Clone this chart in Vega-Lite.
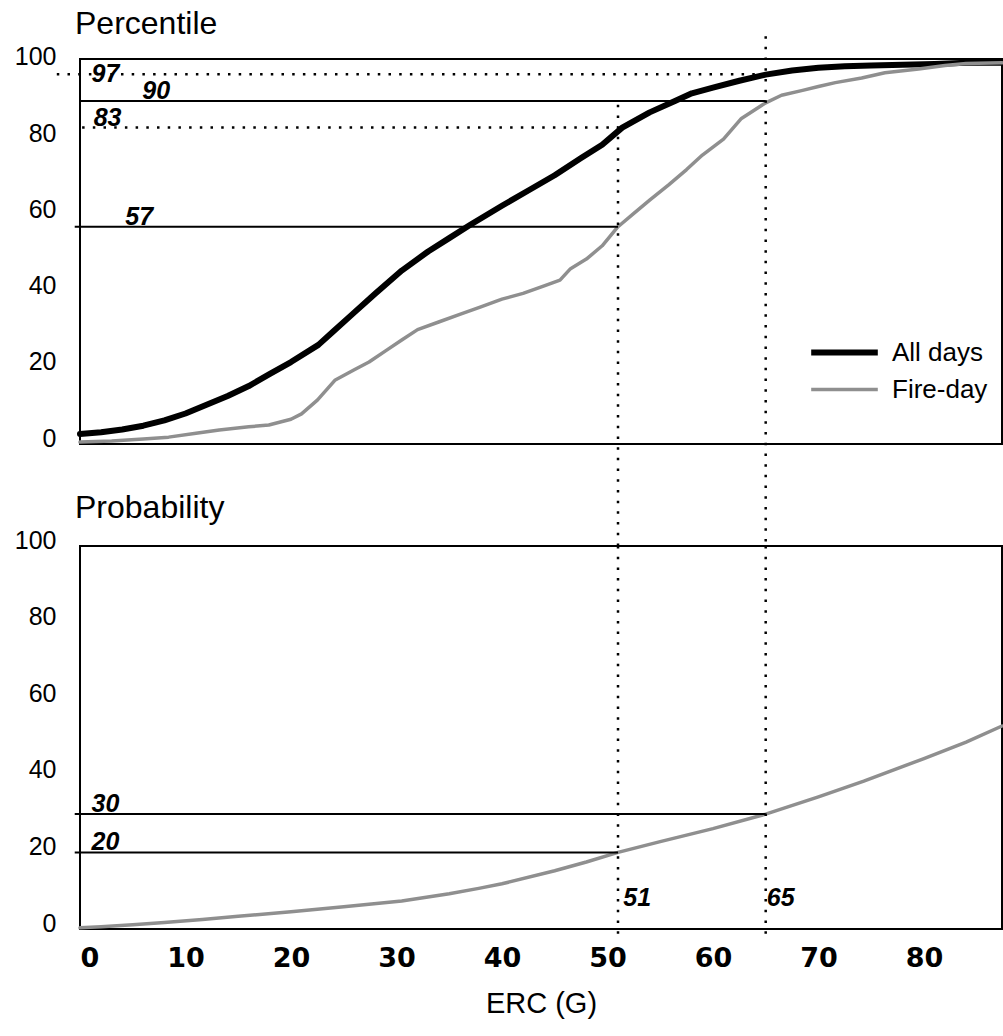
{
  "$schema": "https://vega.github.io/schema/vega-lite/v6.json",
  "background": "white",
  "padding": {"left": 13, "top": 6, "right": 2, "bottom": 2},
  "bounds": "flush",
  "spacing": 102,
  "config": {
    "view": {"stroke": "black", "strokeWidth": 2},
    "font": "Liberation Sans",
    "axis": {"grid": false, "domain": false, "ticks": false, "labelColor": "black", "titleColor": "black"},
    "axisY": {"labelFont": "Liberation Sans", "labelFontSize": 25, "labelPadding": 24, "labelOffset": -6},
    "axisX": {"labelFont": "DejaVu Sans", "labelFontWeight": "bold", "labelFontSize": 27, "labelPadding": 16, "titleFont": "Liberation Sans", "titleFontSize": 29, "titleFontWeight": "normal", "titlePadding": 18}
  },
  "datasets": {
    "curves": [
      {"erc": 0, "pct": 2.6, "series": "All days"},
      {"erc": 2, "pct": 3.1, "series": "All days"},
      {"erc": 4, "pct": 3.8, "series": "All days"},
      {"erc": 6, "pct": 4.8, "series": "All days"},
      {"erc": 8, "pct": 6.2, "series": "All days"},
      {"erc": 10, "pct": 8, "series": "All days"},
      {"erc": 12, "pct": 10.3, "series": "All days"},
      {"erc": 14, "pct": 12.6, "series": "All days"},
      {"erc": 16, "pct": 15.2, "series": "All days"},
      {"erc": 18, "pct": 18.4, "series": "All days"},
      {"erc": 20, "pct": 21.5, "series": "All days"},
      {"erc": 22.6, "pct": 26, "series": "All days"},
      {"erc": 24, "pct": 29.5, "series": "All days"},
      {"erc": 25.8, "pct": 34, "series": "All days"},
      {"erc": 28, "pct": 39.5, "series": "All days"},
      {"erc": 30.5, "pct": 45.5, "series": "All days"},
      {"erc": 33, "pct": 50.5, "series": "All days"},
      {"erc": 35, "pct": 54, "series": "All days"},
      {"erc": 37, "pct": 57.5, "series": "All days"},
      {"erc": 40, "pct": 62.5, "series": "All days"},
      {"erc": 42.5, "pct": 66.5, "series": "All days"},
      {"erc": 45, "pct": 70.5, "series": "All days"},
      {"erc": 47.5, "pct": 75, "series": "All days"},
      {"erc": 49.5, "pct": 78.5, "series": "All days"},
      {"erc": 51.4, "pct": 83, "series": "All days"},
      {"erc": 54, "pct": 87, "series": "All days"},
      {"erc": 56.4, "pct": 90, "series": "All days"},
      {"erc": 58, "pct": 92, "series": "All days"},
      {"erc": 60, "pct": 93.5, "series": "All days"},
      {"erc": 62.5, "pct": 95.3, "series": "All days"},
      {"erc": 65, "pct": 96.9, "series": "All days"},
      {"erc": 67.5, "pct": 98, "series": "All days"},
      {"erc": 70, "pct": 98.7, "series": "All days"},
      {"erc": 72.5, "pct": 99.1, "series": "All days"},
      {"erc": 75, "pct": 99.3, "series": "All days"},
      {"erc": 78, "pct": 99.5, "series": "All days"},
      {"erc": 81, "pct": 99.7, "series": "All days"},
      {"erc": 84, "pct": 100, "series": "All days"},
      {"erc": 87.4, "pct": 100, "series": "All days"},
      {"erc": 0, "pct": 0.5, "series": "Fire-day"},
      {"erc": 3, "pct": 0.8, "series": "Fire-day"},
      {"erc": 6, "pct": 1.3, "series": "Fire-day"},
      {"erc": 8.4, "pct": 1.8, "series": "Fire-day"},
      {"erc": 11, "pct": 2.8, "series": "Fire-day"},
      {"erc": 13.2, "pct": 3.7, "series": "Fire-day"},
      {"erc": 16, "pct": 4.5, "series": "Fire-day"},
      {"erc": 17.9, "pct": 5, "series": "Fire-day"},
      {"erc": 20, "pct": 6.5, "series": "Fire-day"},
      {"erc": 21, "pct": 7.9, "series": "Fire-day"},
      {"erc": 22.5, "pct": 11.5, "series": "Fire-day"},
      {"erc": 24.2, "pct": 16.8, "series": "Fire-day"},
      {"erc": 26, "pct": 19.5, "series": "Fire-day"},
      {"erc": 27.4, "pct": 21.5, "series": "Fire-day"},
      {"erc": 29, "pct": 24.5, "series": "Fire-day"},
      {"erc": 30.5, "pct": 27.3, "series": "Fire-day"},
      {"erc": 32, "pct": 30, "series": "Fire-day"},
      {"erc": 34, "pct": 32, "series": "Fire-day"},
      {"erc": 36, "pct": 34, "series": "Fire-day"},
      {"erc": 38, "pct": 36, "series": "Fire-day"},
      {"erc": 40, "pct": 38, "series": "Fire-day"},
      {"erc": 42, "pct": 39.5, "series": "Fire-day"},
      {"erc": 44, "pct": 41.5, "series": "Fire-day"},
      {"erc": 45.5, "pct": 43, "series": "Fire-day"},
      {"erc": 46.5, "pct": 46, "series": "Fire-day"},
      {"erc": 48, "pct": 48.5, "series": "Fire-day"},
      {"erc": 49.5, "pct": 52, "series": "Fire-day"},
      {"erc": 51, "pct": 57, "series": "Fire-day"},
      {"erc": 52.5, "pct": 60.5, "series": "Fire-day"},
      {"erc": 54, "pct": 64, "series": "Fire-day"},
      {"erc": 55.8, "pct": 68, "series": "Fire-day"},
      {"erc": 57.5, "pct": 72, "series": "Fire-day"},
      {"erc": 59, "pct": 75.8, "series": "Fire-day"},
      {"erc": 61, "pct": 80, "series": "Fire-day"},
      {"erc": 62.7, "pct": 85.4, "series": "Fire-day"},
      {"erc": 65, "pct": 89.5, "series": "Fire-day"},
      {"erc": 66.5, "pct": 91.5, "series": "Fire-day"},
      {"erc": 68.4, "pct": 92.7, "series": "Fire-day"},
      {"erc": 70, "pct": 93.8, "series": "Fire-day"},
      {"erc": 71.6, "pct": 94.8, "series": "Fire-day"},
      {"erc": 74.1, "pct": 96, "series": "Fire-day"},
      {"erc": 76.3, "pct": 97.4, "series": "Fire-day"},
      {"erc": 79.5, "pct": 98.4, "series": "Fire-day"},
      {"erc": 82, "pct": 99.3, "series": "Fire-day"},
      {"erc": 84, "pct": 99.8, "series": "Fire-day"},
      {"erc": 87.4, "pct": 100, "series": "Fire-day"}
    ],
    "prob": [
      {"erc": 0, "pct": 0.3},
      {"erc": 2, "pct": 0.6},
      {"erc": 5, "pct": 1.1},
      {"erc": 8, "pct": 1.7},
      {"erc": 11.6, "pct": 2.5},
      {"erc": 15, "pct": 3.3},
      {"erc": 20, "pct": 4.5},
      {"erc": 25, "pct": 5.8},
      {"erc": 30.5, "pct": 7.3},
      {"erc": 35, "pct": 9.2},
      {"erc": 37.8, "pct": 10.6},
      {"erc": 40, "pct": 11.8},
      {"erc": 45, "pct": 15.2},
      {"erc": 48, "pct": 17.5},
      {"erc": 51, "pct": 20},
      {"erc": 55, "pct": 22.8},
      {"erc": 60, "pct": 26.2},
      {"erc": 65, "pct": 30},
      {"erc": 70, "pct": 34.5},
      {"erc": 74.3, "pct": 38.6},
      {"erc": 80, "pct": 44.5},
      {"erc": 84, "pct": 48.8},
      {"erc": 87.4, "pct": 53}
    ]
  },
  "vconcat": [
    {
      "width": 922,
      "height": 385,
      "title": {"text": "Percentile", "anchor": "start", "frame": "group", "fontSize": 32, "fontWeight": "normal", "font": "Liberation Sans", "color": "black", "baseline": "alphabetic", "offset": -31, "dx": -5},
      "encoding": {
        "x": {"field": "erc", "type": "quantitative", "scale": {"domain": [0, 87.4], "nice": false, "zero": false}, "axis": null},
        "y": {"field": "pct", "type": "quantitative", "scale": {"domain": [0, 101], "nice": false}, "axis": {"title": null, "values": [0, 20, 40, 60, 80, 100]}}
      },
      "layer": [
        {
          "data": {"name": "curves"},
          "mark": {"type": "line", "strokeCap": "round", "strokeJoin": "round"},
          "encoding": {
            "color": {"field": "series", "type": "nominal", "scale": {"domain": ["All days", "Fire-day"], "range": ["#000000", "#8f8f8f"]},
              "legend": {"title": null, "orient": "none", "legendX": 748, "legendY": 277, "symbolType": "M-2.5,0H2.5", "symbolSize": 710, "labelFontSize": 26, "labelFont": "Liberation Sans", "labelColor": "black", "labelOffset": 31, "rowPadding": 8}},
            "strokeWidth": {"field": "series", "type": "nominal", "scale": {"domain": ["All days", "Fire-day"], "range": [6, 3.5]}, "legend": {"title": null, "orient": "none", "legendX": 748, "legendY": 277, "symbolType": "M-2.5,0H2.5", "symbolSize": 710, "labelFontSize": 26, "labelFont": "Liberation Sans", "labelColor": "black", "labelOffset": 31, "rowPadding": 8}}
          }
        },
        {
          "data": {"values": [{"erc": -2.2, "erc2": 65, "pct": 97}, {"erc": 0.2, "erc2": 51, "pct": 83}]},
          "mark": {"type": "rule", "color": "black", "strokeWidth": 2.5, "strokeDash": [2.5, 8.2]},
          "encoding": {"x2": {"field": "erc2"}}
        },
        {
          "data": {"values": [{"erc": 0, "erc2": 65, "pct": 90}, {"erc": -0.5, "erc2": 51, "pct": 57}]},
          "mark": {"type": "rule", "color": "black", "strokeWidth": 2},
          "encoding": {"x2": {"field": "erc2"}}
        },
        {
          "data": {"values": [{"erc": 51, "pct": 89, "pct2": -26.8}, {"erc": 65, "pct": 107, "pct2": -26.8}]},
          "mark": {"type": "rule", "color": "black", "strokeWidth": 2.5, "strokeDash": [2.5, 8.2]},
          "encoding": {"y2": {"field": "pct2"}}
        },
        {
          "data": {"values": [{"erc": 1.1, "pct": 97, "label": "97"}]},
          "mark": {"type": "text", "align": "left", "baseline": "middle", "font": "Liberation Sans", "fontSize": 25, "fontWeight": "bold", "fontStyle": "italic", "color": "black"},
          "encoding": {"text": {"field": "label"}}
        },
        {
          "data": {"values": [{"erc": 5.9, "pct": 90, "label": "90"}, {"erc": 1.3, "pct": 83, "label": "83"}, {"erc": 4.3, "pct": 57, "label": "57"}]},
          "mark": {"type": "text", "align": "left", "baseline": "alphabetic", "dy": -2, "font": "Liberation Sans", "fontSize": 25, "fontWeight": "bold", "fontStyle": "italic", "color": "black"},
          "encoding": {"text": {"field": "label"}}
        }
      ]
    },
    {
      "width": 922,
      "height": 383,
      "title": {"text": "Probability", "anchor": "start", "frame": "group", "fontSize": 32, "fontWeight": "normal", "font": "Liberation Sans", "color": "black", "baseline": "alphabetic", "offset": -22, "dx": -5},
      "encoding": {
        "x": {"field": "erc", "type": "quantitative", "scale": {"domain": [0, 87.4], "nice": false, "zero": false}, "axis": {"title": "ERC (G)", "values": [0, 10, 20, 30, 40, 50, 60, 70, 80]}},
        "y": {"field": "pct", "type": "quantitative", "scale": {"domain": [0, 100], "nice": false}, "axis": {"title": null, "values": [0, 20, 40, 60, 80, 100]}}
      },
      "layer": [
        {
          "data": {"name": "prob"},
          "mark": {"type": "line", "color": "#8f8f8f", "strokeWidth": 3.5, "strokeCap": "round"}
        },
        {
          "data": {"values": [{"erc": -0.5, "erc2": 65, "pct": 30}, {"erc": -0.5, "erc2": 51, "pct": 20}]},
          "mark": {"type": "rule", "color": "black", "strokeWidth": 2},
          "encoding": {"x2": {"field": "erc2"}}
        },
        {
          "data": {"values": [{"erc": 51, "pct": 100, "pct2": -2.7}, {"erc": 65, "pct": 100, "pct2": -2.7}]},
          "mark": {"type": "rule", "color": "black", "strokeWidth": 2.5, "strokeDash": [2.5, 8.2]},
          "encoding": {"y2": {"field": "pct2"}}
        },
        {
          "data": {"values": [{"erc": 51.5, "pct": 8.1, "label": "51"}, {"erc": 65.1, "pct": 8.1, "label": "65"}]},
          "mark": {"type": "text", "align": "left", "baseline": "middle", "font": "Liberation Sans", "fontSize": 25, "fontWeight": "bold", "fontStyle": "italic", "color": "black"},
          "encoding": {"text": {"field": "label"}}
        },
        {
          "data": {"values": [{"erc": 1.1, "pct": 30, "label": "30"}, {"erc": 1.1, "pct": 20, "label": "20"}]},
          "mark": {"type": "text", "align": "left", "baseline": "alphabetic", "dy": -2, "font": "Liberation Sans", "fontSize": 25, "fontWeight": "bold", "fontStyle": "italic", "color": "black"},
          "encoding": {"text": {"field": "label"}}
        }
      ]
    }
  ]
}
